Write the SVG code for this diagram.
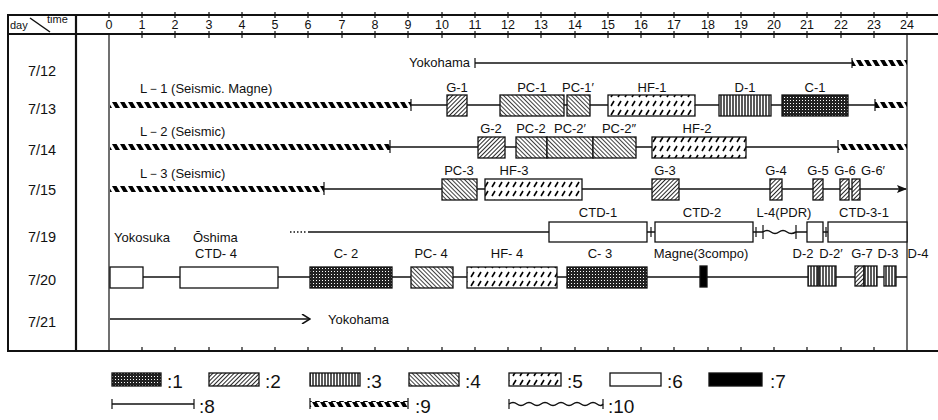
<svg xmlns="http://www.w3.org/2000/svg" width="938" height="420" viewBox="0 0 938 420">
<style>
text{font-family:"Liberation Sans",Arial,sans-serif;fill:#111}
.lb{font-size:13px;text-anchor:middle}
.ll{font-size:13px}
.hd{font-size:12.5px;text-anchor:middle}
.dt{font-size:14.5px;text-anchor:middle}
.lg{font-size:19px}
.ln{stroke:#111;stroke-width:1.5;fill:none}
.tk{stroke:#111;stroke-width:1.2}
.bx{stroke:#111;stroke-width:1.3}
.grid{stroke:#111;fill:none}
</style>
<defs>
<pattern id="p1" width="3" height="3" patternUnits="userSpaceOnUse"><rect width="3" height="3" fill="#222"/><rect x="1" y="1" width="1" height="1" fill="#fff"/></pattern>
<pattern id="p2" width="3" height="3" patternUnits="userSpaceOnUse" patternTransform="rotate(45)"><rect width="3" height="3" fill="#fff"/><line x1="0" y1="0" x2="0" y2="3" stroke="#000" stroke-width="1.7"/></pattern>
<pattern id="p3" width="3" height="3" patternUnits="userSpaceOnUse"><rect width="3" height="3" fill="#fff"/><line x1="1" y1="0" x2="1" y2="3" stroke="#000" stroke-width="1.3"/></pattern>
<pattern id="p4" width="3" height="3" patternUnits="userSpaceOnUse" patternTransform="rotate(-45)"><rect width="3" height="3" fill="#fff"/><line x1="0" y1="0" x2="0" y2="3" stroke="#000" stroke-width="1.5"/></pattern>
<pattern id="p5" width="7" height="9" patternUnits="userSpaceOnUse"><rect width="7" height="9" fill="#fff"/><line x1="2" y1="7" x2="5" y2="2" stroke="#000" stroke-width="1.6"/></pattern>
<pattern id="p9" width="8" height="6" patternUnits="userSpaceOnUse"><polygon points="0,0 4.5,0 8,6 3.5,6" fill="#000"/></pattern>
<marker id="ar" markerWidth="10" markerHeight="8" refX="9" refY="4" orient="auto" markerUnits="userSpaceOnUse"><path d="M0,0 L10,4 L0,8 L2,4 Z" fill="#111"/></marker>
<marker id="ar2" markerWidth="10" markerHeight="10" refX="9" refY="5" orient="auto" markerUnits="userSpaceOnUse"><path d="M1,0 L9,5 L1,10" fill="none" stroke="#111" stroke-width="1.5"/></marker>
</defs>
<rect width="938" height="420" fill="#fff"/>

<g id="grid">
<line class="grid" x1="8" y1="15" x2="938" y2="15" stroke-width="1.8"/>
<line class="grid" x1="8" y1="34" x2="938" y2="34" stroke-width="2"/>
<line class="grid" x1="8" y1="351" x2="938" y2="351" stroke-width="2"/>
<line class="grid" x1="8" y1="14" x2="8" y2="352" stroke-width="2"/>
<line class="grid" x1="76" y1="14" x2="76" y2="352" stroke-width="2.2"/>
<line class="grid" x1="109" y1="34" x2="109" y2="351" stroke-width="1.2"/>
<line class="grid" x1="907" y1="34" x2="907" y2="351" stroke-width="1.2"/>
<line class="grid" x1="30" y1="18" x2="50" y2="32" stroke-width="1.5"/>
<path class="grid" stroke-width="1.2" d="M109,12V18M142,12V18M175,12V18M209,12V18M242,12V18M275,12V18M308,12V18M342,12V18M375,12V18M408,12V18M442,12V18M475,12V18M508,12V18M541,12V18M575,12V18M608,12V18M641,12V18M674,12V18M708,12V18M741,12V18M774,12V18M807,12V18M841,12V18M874,12V18M907,12V18"/>
<path class="grid" stroke-width="1.2" d="M142,31V38M175,31V38M209,31V38M242,31V38M275,31V38M308,31V38M342,31V38M375,31V38M408,31V38M442,31V38M475,31V38M508,31V38M541,31V38M575,31V38M608,31V38M641,31V38M674,31V38M708,31V38M741,31V38M774,31V38M807,31V38M841,31V38M874,31V38"/>
<path class="grid" stroke-width="1.2" d="M142,347V351M175,347V351M209,347V351M242,347V351M275,347V351M308,347V351M342,347V351M375,347V351M408,347V351M442,347V351M475,347V351M508,347V351M541,347V351M575,347V351M608,347V351M641,347V351M674,347V351M708,347V351M741,347V351M774,347V351M807,347V351M841,347V351M874,347V351"/>
<text x="10" y="29" font-size="11">day</text>
<text x="47" y="23" font-size="11">time</text>
<text class="hd" x="109" y="29">0</text><text class="hd" x="142" y="29">1</text><text class="hd" x="175" y="29">2</text><text class="hd" x="209" y="29">3</text><text class="hd" x="242" y="29">4</text><text class="hd" x="275" y="29">5</text><text class="hd" x="308" y="29">6</text><text class="hd" x="342" y="29">7</text><text class="hd" x="375" y="29">8</text><text class="hd" x="408" y="29">9</text><text class="hd" x="442" y="29">10</text><text class="hd" x="475" y="29">11</text><text class="hd" x="508" y="29">12</text><text class="hd" x="541" y="29">13</text><text class="hd" x="575" y="29">14</text><text class="hd" x="608" y="29">15</text><text class="hd" x="641" y="29">16</text><text class="hd" x="674" y="29">17</text><text class="hd" x="708" y="29">18</text><text class="hd" x="741" y="29">19</text><text class="hd" x="774" y="29">20</text><text class="hd" x="807" y="29">21</text><text class="hd" x="841" y="29">22</text><text class="hd" x="874" y="29">23</text><text class="hd" x="907" y="29">24</text>
<text class="dt" x="42" y="76">7/12</text>
<text class="dt" x="42" y="114">7/13</text>
<text class="dt" x="42" y="155">7/14</text>
<text class="dt" x="42" y="195">7/15</text>
<text class="dt" x="42" y="242">7/19</text>
<text class="dt" x="42" y="285">7/20</text>
<text class="dt" x="42" y="327">7/21</text>
</g>

<g id="connectors">
<line class="ln" x1="475" y1="63" x2="852" y2="63"/>
<path class="tk" d="M475,58V68M852,58V68"/>
<rect x="852" y="60" width="55" height="6" fill="url(#p9)"/>
<rect x="110" y="102" width="301" height="6" fill="url(#p9)"/>
<path class="tk" d="M411,99V111M875,99V111"/>
<line class="ln" x1="411" y1="105" x2="875" y2="105"/>
<rect x="875" y="102" width="32" height="6" fill="url(#p9)"/>
<rect x="110" y="144" width="280" height="6" fill="url(#p9)"/>
<path class="tk" d="M390,140V153M838,140V153"/>
<line class="ln" x1="390" y1="147" x2="838" y2="147"/>
<rect x="838" y="144" width="69" height="6" fill="url(#p9)"/>
<rect x="110" y="186" width="214" height="6" fill="url(#p9)"/>
<path class="tk" d="M324,182V195"/>
<line class="ln" x1="324" y1="189" x2="906" y2="189" marker-end="url(#ar)"/>
<line class="ln" x1="290" y1="232" x2="306" y2="232" stroke-dasharray="1.5,2"/>
<line class="ln" x1="308" y1="232" x2="549" y2="232"/>
<line class="ln" x1="647" y1="232" x2="655" y2="232"/>
<line class="ln" x1="753" y1="232" x2="763" y2="232"/>
<line class="ln" x1="796" y1="232" x2="807" y2="232"/>
<line class="ln" x1="823" y1="232" x2="828" y2="232"/>
<path class="tk" d="M651,227V237M756,227V237M763,225V239M796,225V239M826,227V237"/>
<path class="ln" d="M763,232 q4,-3 8,0 t8,0 t8,0 t9,0" stroke-width="1.7"/>
<line class="ln" x1="143" y1="277" x2="180" y2="277"/>
<line class="ln" x1="278" y1="277" x2="310" y2="277"/>
<line class="ln" x1="392" y1="277" x2="411" y2="277"/>
<line class="ln" x1="453" y1="277" x2="467" y2="277"/>
<line class="ln" x1="557" y1="277" x2="567" y2="277"/>
<line class="ln" x1="647" y1="277" x2="808" y2="277"/>
<line class="ln" x1="836" y1="277" x2="855" y2="277"/>
<line class="ln" x1="877" y1="277" x2="884" y2="277"/>
<line class="ln" x1="896" y1="277" x2="907" y2="277"/>
<line class="ln" x1="110" y1="319" x2="310" y2="319" marker-end="url(#ar2)"/>
</g>

<g id="labels">
<text x="470" y="67" font-size="13" text-anchor="end">Yokohama</text>
<text class="ll" x="140" y="93">L－1 (Seismic. Magne)</text>
<text class="ll" x="140" y="136">L－2 (Seismic)</text>
<text class="ll" x="140" y="178">L－3 (Seismic)</text>
<text class="ll" x="114" y="242">Yokosuka</text>
<text class="ll" x="193" y="242">Ōshima</text>
<text class="ll" x="328" y="324">Yokohama</text>
</g>

<g id="n-G-1"><rect class="bx" x="447" y="95" width="20" height="21" fill="url(#p2)"/><text class="lb" x="457" y="92">G-1</text></g>
<g id="n-PC-1"><rect class="bx" x="500" y="95" width="64" height="21" fill="url(#p4)"/><text class="lb" x="532" y="92">PC-1</text></g>
<g id="n-PC-1p"><rect class="bx" x="567" y="95" width="23" height="21" fill="url(#p4)"/><text class="lb" x="578" y="92">PC-1′</text></g>
<g id="n-HF-1"><rect class="bx" x="608" y="95" width="87" height="21" fill="url(#p5)"/><text class="lb" x="652" y="92">HF-1</text></g>
<g id="n-D-1"><rect class="bx" x="719" y="95" width="52" height="21" fill="url(#p3)"/><text class="lb" x="745" y="92">D-1</text></g>
<g id="n-C-1"><rect class="bx" x="782" y="95" width="66" height="21" fill="url(#p1)"/><text class="lb" x="815" y="92">C-1</text></g>

<g id="n-G-2"><rect class="bx" x="478" y="137" width="27" height="21" fill="url(#p2)"/><text class="lb" x="491" y="133">G-2</text></g>
<g id="n-PC-2"><rect class="bx" x="516" y="137" width="31" height="21" fill="url(#p4)"/><text class="lb" x="531" y="133">PC-2</text></g>
<g id="n-PC-2p"><rect class="bx" x="547" y="137" width="46" height="21" fill="url(#p4)"/><text class="lb" x="570" y="133">PC-2′</text></g>
<g id="n-PC-2pp"><rect class="bx" x="593" y="137" width="43" height="21" fill="url(#p4)"/><text class="lb" x="619" y="133">PC-2″</text></g>
<g id="n-HF-2"><rect class="bx" x="652" y="137" width="94" height="21" fill="url(#p5)"/><text class="lb" x="697" y="133">HF-2</text></g>

<g id="n-PC-3"><rect class="bx" x="442" y="179" width="35" height="21" fill="url(#p4)"/><text class="lb" x="459" y="175">PC-3</text></g>
<g id="n-HF-3"><rect class="bx" x="485" y="179" width="97" height="21" fill="url(#p5)"/><text class="lb" x="514" y="175">HF-3</text></g>
<g id="n-G-3"><rect class="bx" x="652" y="179" width="27" height="21" fill="url(#p2)"/><text class="lb" x="665" y="175">G-3</text></g>
<g id="n-G-4"><rect class="bx" x="770" y="179" width="12" height="21" fill="url(#p2)"/><text class="lb" x="776" y="175">G-4</text></g>
<g id="n-G-5"><rect class="bx" x="813" y="179" width="10" height="21" fill="url(#p2)"/><text class="lb" x="818" y="175">G-5</text></g>
<g id="n-G-6"><rect class="bx" x="840" y="179" width="9" height="21" fill="url(#p2)"/><text class="lb" x="845" y="175">G-6</text></g>
<g id="n-G-6p"><rect class="bx" x="852" y="179" width="8" height="21" fill="url(#p2)"/><text class="lb" x="873" y="175">G-6′</text></g>

<g id="n-CTD-1"><rect class="bx" x="549" y="222" width="98" height="20" fill="#fff"/><text class="lb" x="598" y="217">CTD-1</text></g>
<g id="n-CTD-2"><rect class="bx" x="655" y="222" width="98" height="20" fill="#fff"/><text class="lb" x="702" y="217">CTD-2</text></g>
<g id="n-L-4"><text class="lb" x="784" y="217">L-4(PDR)</text></g>
<g id="n-b19"><rect class="bx" x="807" y="222" width="16" height="20" fill="#fff"/></g>
<g id="n-CTD-3-1"><rect class="bx" x="828" y="222" width="79" height="20" fill="#fff"/><text class="lb" x="864" y="217">CTD-3-1</text></g>

<g id="n-b20"><rect class="bx" x="110" y="267" width="33" height="21" fill="#fff"/></g>
<g id="n-CTD-4"><rect class="bx" x="180" y="267" width="98" height="21" fill="#fff"/><text class="lb" x="216" y="258">CTD- 4</text></g>
<g id="n-C-2"><rect class="bx" x="310" y="267" width="82" height="21" fill="url(#p1)"/><text class="lb" x="346" y="258">C- 2</text></g>
<g id="n-PC-4"><rect class="bx" x="411" y="267" width="42" height="21" fill="url(#p4)"/><text class="lb" x="431" y="258">PC- 4</text></g>
<g id="n-HF-4"><rect class="bx" x="467" y="267" width="90" height="21" fill="url(#p5)"/><text class="lb" x="507" y="258">HF- 4</text></g>
<g id="n-C-3"><rect class="bx" x="567" y="267" width="80" height="21" fill="url(#p1)"/><text class="lb" x="600" y="258">C- 3</text></g>
<g id="n-Magne"><rect class="bx" x="700" y="266" width="7" height="21" fill="#000"/><text class="lb" x="701" y="258">Magne(3compo)</text></g>
<g id="n-D-2"><rect class="bx" x="808" y="266" width="10" height="20" fill="url(#p3)"/><text class="lb" x="803" y="258">D-2</text></g>
<g id="n-D-2p"><rect class="bx" x="819" y="266" width="17" height="20" fill="url(#p3)"/><text class="lb" x="831" y="258">D-2′</text></g>
<g id="n-G-7"><rect class="bx" x="855" y="266" width="9" height="20" fill="url(#p2)"/><text class="lb" x="862" y="258">G-7</text></g>
<g id="n-D-3"><rect class="bx" x="864" y="266" width="13" height="20" fill="url(#p3)"/><text class="lb" x="888" y="258">D-3</text></g>
<g id="n-D-4"><rect class="bx" x="884" y="266" width="12" height="20" fill="url(#p3)"/><text class="lb" x="918" y="258">D-4</text></g>

<g id="legend">
<rect class="bx" x="112" y="373" width="49" height="13" fill="url(#p1)"/><text class="lg" x="167" y="388">:1</text>
<rect class="bx" x="209" y="373" width="50" height="13" fill="url(#p2)"/><text class="lg" x="265" y="388">:2</text>
<rect class="bx" x="310" y="373" width="50" height="13" fill="url(#p3)"/><text class="lg" x="366" y="388">:3</text>
<rect class="bx" x="409" y="373" width="50" height="13" fill="url(#p4)"/><text class="lg" x="465" y="388">:4</text>
<rect class="bx" x="509" y="373" width="52" height="13" fill="url(#p5)"/><text class="lg" x="567" y="388">:5</text>
<rect class="bx" x="610" y="373" width="51" height="13" fill="#fff"/><text class="lg" x="667" y="388">:6</text>
<rect class="bx" x="709" y="373" width="53" height="13" fill="#000"/><text class="lg" x="770" y="388">:7</text>
<line class="ln" x1="112" y1="404" x2="194" y2="404"/><path class="tk" d="M112,399V409M194,399V409"/><text class="lg" x="199" y="413">:8</text>
<rect x="310" y="401" width="98" height="6" fill="url(#p9)"/><path class="tk" d="M310,398V409M408,398V409"/><text class="lg" x="415" y="413">:9</text>
<path class="ln" d="M509,404 q4,-3 8,0 t8,0 t8,0 t8,0 t8,0 t8,0 t8,0 t8,0 t8,0 t8,0 t8,0 t6,0" stroke-width="1.7"/><path class="tk" d="M509,399V409M603,399V409"/><text class="lg" x="608" y="413">:10</text>
</g>
</svg>
